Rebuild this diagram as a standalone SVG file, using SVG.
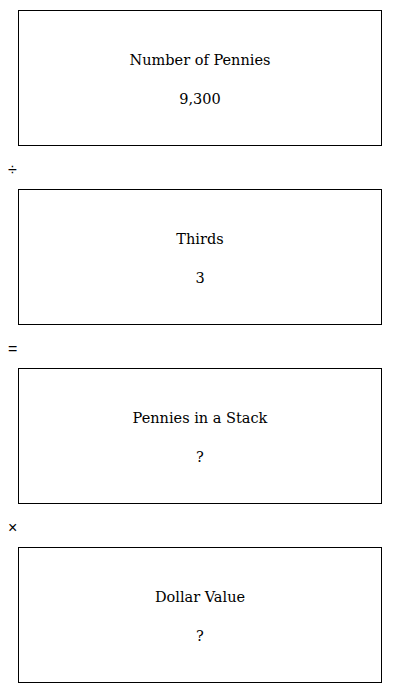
<svg xmlns="http://www.w3.org/2000/svg" width="400" height="693" viewBox="0 0 400 693">
<style>
.box{fill:#fff;stroke:#000;stroke-width:1}
.t{font-family:"DejaVu Serif","Liberation Serif",serif;font-size:14.5px;text-anchor:middle;fill:#000}
.op{font-family:"Liberation Sans",Arial,sans-serif;font-size:16px;fill:#000}
</style>
<rect width="400" height="693" fill="#fff"/>
<g id="connectors">
<text class="op" x="8" y="175">÷</text>
<text class="op" x="8" y="354">=</text>
<text class="op" x="8" y="533">×</text>
</g>
<g id="n1"><rect class="box" x="18.5" y="10.5" width="363" height="135"/><text class="t" x="200" y="65">Number of Pennies</text><text class="t" x="200" y="104">9,300</text></g>
<g id="n2"><rect class="box" x="18.5" y="189.5" width="363" height="135"/><text class="t" x="200" y="244">Thirds</text><text class="t" x="200" y="283">3</text></g>
<g id="n3"><rect class="box" x="18.5" y="368.5" width="363" height="135"/><text class="t" x="200" y="423">Pennies in a Stack</text><text class="t" x="200" y="462">?</text></g>
<g id="n4"><rect class="box" x="18.5" y="547.5" width="363" height="135"/><text class="t" x="200" y="602">Dollar Value</text><text class="t" x="200" y="641">?</text></g>
</svg>
